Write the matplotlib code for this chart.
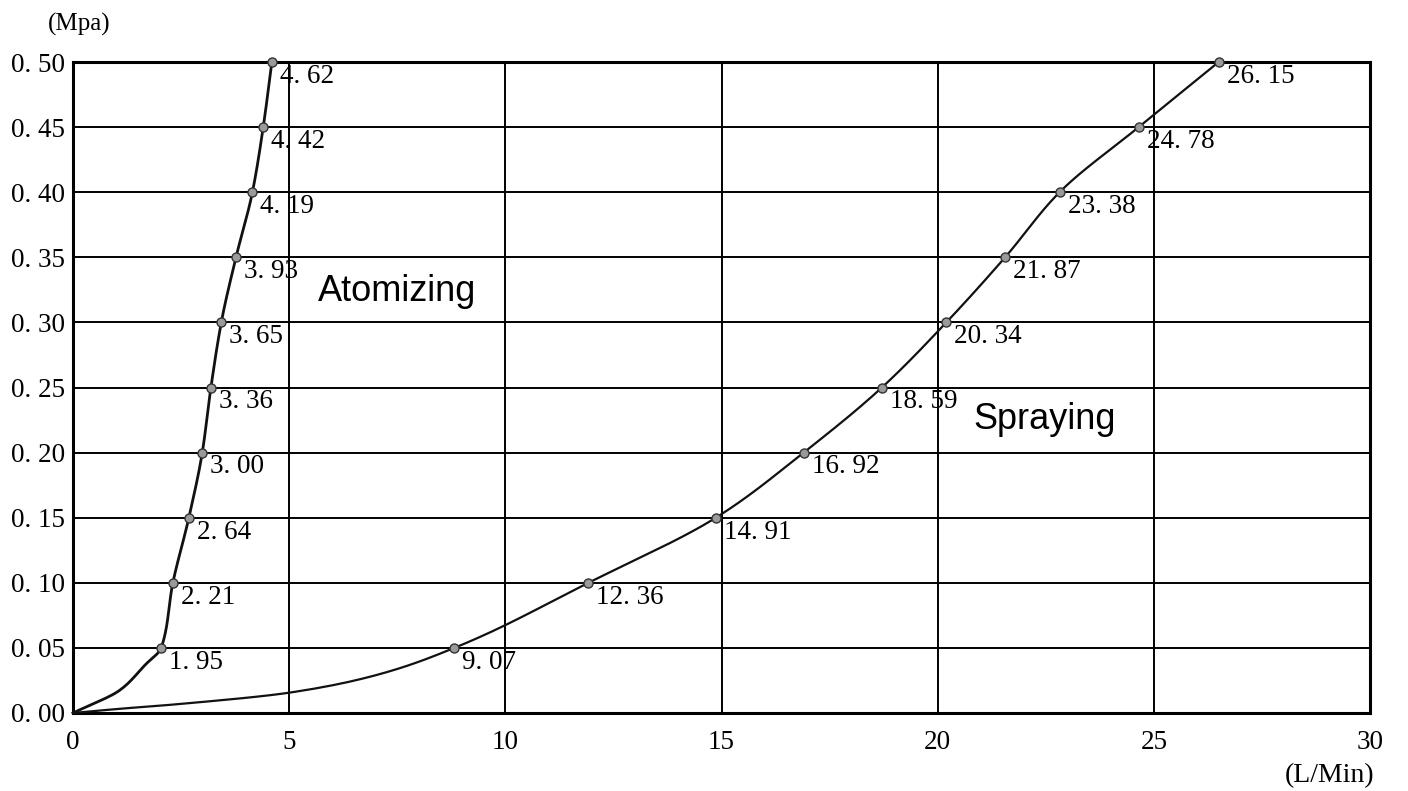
import numpy as np
import matplotlib
matplotlib.use("Agg")
import matplotlib.pyplot as plt

# ---- data ----
pressure = [0.05, 0.10, 0.15, 0.20, 0.25, 0.30, 0.35, 0.40, 0.45, 0.50]

atom_x = [2.04, 2.31, 2.68, 2.99, 3.19, 3.43, 3.77, 4.15, 4.40, 4.60]
atom_labels = ["1. 95", "2. 21", "2. 64", "3. 00", "3. 36", "3. 65", "3. 93", "4. 19", "4. 42", "4. 62"]
atom_start_x = [0.0, 1.09, 1.67]
atom_start_y = [0.0, 0.0177, 0.037]

spray_x = [8.82, 11.92, 14.87, 16.9, 18.71, 20.2, 21.56, 22.82, 24.65, 26.5]
spray_labels = ["9. 07", "12. 36", "14. 91", "16. 92", "18. 59", "20. 34", "21. 87", "23. 38", "24. 78", "26. 15"]
spray_start_x = [0.0, 1.0, 2.5, 5.0, 7.0]
spray_start_y = [0.0, 0.003, 0.007, 0.0156, 0.029]

x_ticks = [0, 5, 10, 15, 20, 25, 30]
y_ticks = [0.00, 0.05, 0.10, 0.15, 0.20, 0.25, 0.30, 0.35, 0.40, 0.45, 0.50]
y_tick_labels = ["0. 00", "0. 05", "0. 10", "0. 15", "0. 20", "0. 25", "0. 30", "0. 35", "0. 40", "0. 45", "0. 50"]


def pchip_x_of_y(xs, ys, n=400):
    """Monotone cubic (Fritsch-Carlson) rendering of x as a function of y."""
    y = np.asarray(ys, float)
    x = np.asarray(xs, float)
    h = np.diff(y)
    d = np.diff(x) / h
    m = np.zeros_like(x)
    m[0], m[-1] = d[0], d[-1]
    for k in range(1, len(x) - 1):
        if d[k - 1] * d[k] > 0:
            w1 = 2 * h[k] + h[k - 1]
            w2 = h[k] + 2 * h[k - 1]
            m[k] = (w1 + w2) / (w1 / d[k - 1] + w2 / d[k])
    yy = np.linspace(y[0], y[-1], n)
    idx = np.clip(np.searchsorted(y, yy) - 1, 0, len(h) - 1)
    t = (yy - y[idx]) / h[idx]
    h00 = 2 * t ** 3 - 3 * t ** 2 + 1
    h10 = t ** 3 - 2 * t ** 2 + t
    h01 = -2 * t ** 3 + 3 * t ** 2
    h11 = t ** 3 - t ** 2
    xx = h00 * x[idx] + h10 * h[idx] * m[idx] + h01 * x[idx + 1] + h11 * h[idx] * m[idx + 1]
    return xx, yy


W, H = 1408, 791
fig = plt.figure(figsize=(W / 100, H / 100), dpi=100)
L, R, T, B = 73, 1370, 62, 713
ax = fig.add_axes([L / W, 1 - B / H, (R - L) / W, (B - T) / H])

serif = "Liberation Serif"
ax.set_xlim(0, 30)
ax.set_ylim(0, 0.5)
ax.set_xticks(x_ticks)
ax.set_yticks(y_ticks)
ax.set_yticklabels(y_tick_labels)
ax.grid(True, color="black", linewidth=1.4)
ax.set_axisbelow(True)
ax.tick_params(length=0, labelsize=19.5)
ax.tick_params(axis="y", pad=5.8)
ax.tick_params(axis="x", pad=12)
for lab in ax.get_xticklabels() + ax.get_yticklabels():
    lab.set_family(serif)
for s in ax.spines.values():
    s.set_linewidth(2.2)

marker_kw = dict(linestyle="none", marker="o", markersize=6.5, markerfacecolor="#9a9a9a",
                 markeredgecolor="#333333", markeredgewidth=1, zorder=4, clip_on=False)

# atomizing curve
cx, cy = pchip_x_of_y(atom_start_x + atom_x, atom_start_y + pressure)
ax.plot(cx, cy, color="#111111", linewidth=2.0, zorder=3, clip_on=False)
ax.plot(atom_x, pressure, **marker_kw)
for x, y, t in zip(atom_x, pressure, atom_labels):
    ax.annotate(t, (x, y), xytext=(5.8, -15), textcoords="offset points",
                ha="left", va="baseline", fontsize=19.5, family=serif, zorder=5)

# spraying curve
cx, cy = pchip_x_of_y(spray_start_x + spray_x, spray_start_y + pressure)
ax.plot(cx, cy, color="#111111", linewidth=1.6, zorder=3, clip_on=False)
ax.plot(spray_x, pressure, **marker_kw)
for x, y, t in zip(spray_x, pressure, spray_labels):
    ax.annotate(t, (x, y), xytext=(5.8, -15), textcoords="offset points",
                ha="left", va="baseline", fontsize=19.5, family=serif, zorder=5)

ax.text(5.67, 0.3164, "Atomizing", fontsize=26, family="Liberation Sans", ha="left", va="baseline")
ax.text(20.83, 0.218, "Spraying", fontsize=26, family="Liberation Sans", ha="left", va="baseline")

fig.text(79 / W, 1 - 24 / H, "(Mpa)", fontsize=18, family=serif, ha="center", va="center")
fig.text(1374 / W, 1 - 776 / H, "(L/Min)", fontsize=20, family=serif, ha="right", va="center")

fig.savefig("out.png", dpi=100)
